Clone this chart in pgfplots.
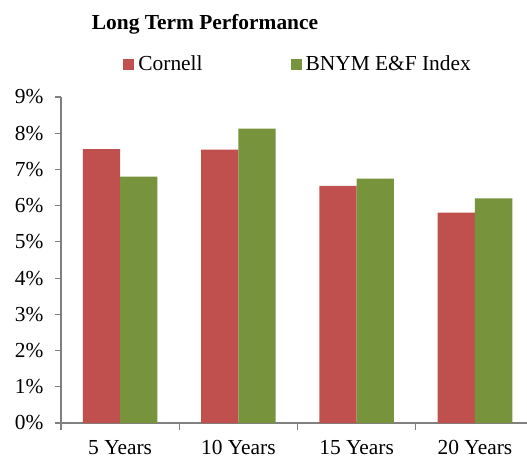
\documentclass[border=0pt]{standalone}
\usepackage{pgfplots}
\pgfplotsset{compat=1.18}
\usepackage{fontspec}
\setmainfont{Liberation Serif}
\definecolor{cred}{HTML}{C0504D}
\definecolor{cgreen}{HTML}{77933C}
\definecolor{axgray}{HTML}{808080}
\begin{document}
\begin{tikzpicture}
\fontsize{10.7}{12.8}\selectfont
\useasboundingbox (0,0) rectangle (263.5pt,228.5pt);
\begin{axis}[
  at={(30.5pt,17pt)}, anchor=south west,
  scale only axis, width=233pt, height=163pt,
  xmin=-0.5, xmax=3.44, ymin=0, ymax=9,
  axis lines*=left,
  axis line style={axgray, line width=0.6pt},
  ybar=0pt, bar width=18.65pt,
  xtick={0,1,2,3},
  xticklabels={5 Years,10 Years,15 Years,20 Years},
  minor xtick={-0.5,0.5,1.5,2.5,3.5},
  major x tick style={draw=none},
  minor x tick style={axgray, line width=0.6pt},
  minor tick length=3.5pt,
  ytick={0,1,...,9},
  yticklabel={\pgfmathprintnumber{\tick}\%},
  y tick style={axgray, line width=0.6pt},
  major tick length=3pt,
  tick align=outside,
  /pgf/number format/assume math mode=true,
  tick label style={font=\fontsize{10.7}{12.8}\selectfont, text=black},
  x tick label style={inner sep=0.5pt, yshift=-5pt},
  y tick label style={xshift=-2pt},
  clip=false,
  legend columns=2,
  legend style={at={(0.511,1.10)}, anchor=center, draw=none, fill=none,
    font=\fontsize{10.7}{12.8}\selectfont,
    /tikz/every even column/.append style={column sep=42pt}},
  legend image code/.code={\fill[#1,draw=none] (0pt,-2.75pt) rectangle (5.5pt,2.75pt);},
]
\addplot[fill=cred, draw=none] coordinates {(0,7.56) (1,7.55) (2,6.55) (3,5.81)};
\addplot[fill=cgreen, draw=none] coordinates {(0,6.80) (1,8.13) (2,6.75) (3,6.20)};
\legend{Cornell, BNYM E\&F Index}
\end{axis}
\node[font=\fontsize{10.7}{12.8}\selectfont\bfseries] at (102.5pt,216.5pt) {Long Term Performance};
\end{tikzpicture}
\end{document}
